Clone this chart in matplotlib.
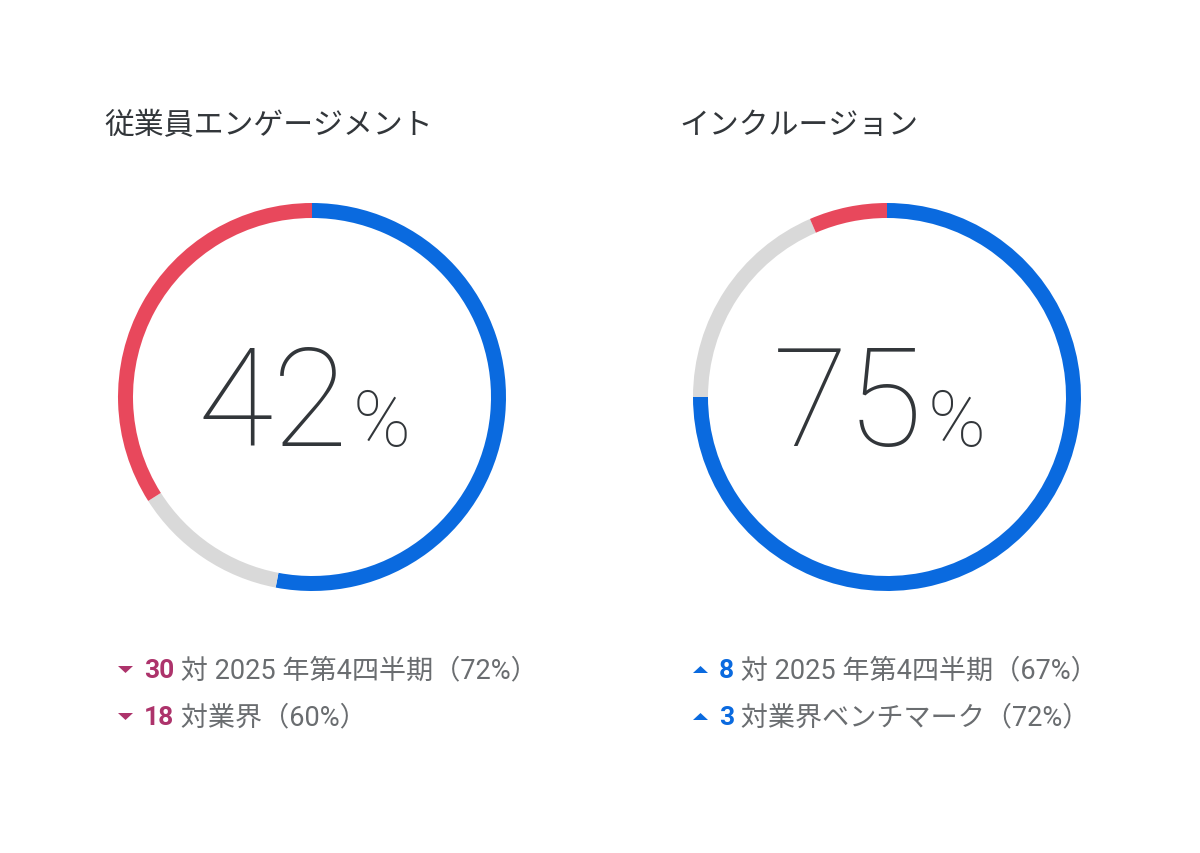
import matplotlib
matplotlib.use("Agg")
import matplotlib.pyplot as plt
from matplotlib.patches import Polygon

plt.rcParams['font.family'] = ['Noto Sans CJK JP', 'DejaVu Sans']

# data
titles = ['従業員エンゲージメント', 'インクルージョン']
scores = [42, 75]
# ring shares: favourable, neutral, unfavourable
favourable = [53, 75]
neutral = [13, 18.5]
unfavourable = [34, 6.5]
deltas = [[-30, -18], [8, 3]]
labels = [['対 2025 年第4四半期（72%）', '対業界（60%）'],
          ['対 2025 年第4四半期（67%）', '対業界ベンチマーク（72%）']]

BLUE = '#0A6ADF'
RED = '#E8485C'
GREY = '#D9D9D9'
DARK = '#32363A'
SUB = '#6A6D70'
DOWN = '#AD336B'
MIXED = ['Roboto', 'Noto Sans CJK JP', 'DejaVu Sans']

W, H = 1200, 854
fig = plt.figure(figsize=(W / 100, H / 100), dpi=100)
fig.patch.set_facecolor('white')

bg = fig.add_axes([0, 0, 1, 1])
bg.set_xlim(0, W)
bg.set_ylim(H, 0)
bg.axis('off')

centers = [312, 887]
cy = 398
r_out = 194
ring = 15

for i in range(2):
    cx = centers[i]
    ax = fig.add_axes([(cx - r_out) / W, (H - cy - r_out) / H,
                       2 * r_out / W, 2 * r_out / H])
    ax.pie([favourable[i], neutral[i], unfavourable[i]],
           colors=[BLUE, GREY, RED], startangle=90, counterclock=False,
           radius=1, wedgeprops=dict(width=ring / r_out, linewidth=0))
    ax.set_xlim(-1, 1)
    ax.set_ylim(-1, 1)
    ax.set_aspect('equal')
    ax.axis('off')

    # title
    bg.text(cx - 208, 126, titles[i], fontsize=21.5, color=DARK,
            ha='left', va='center')

    # big number
    bg.text(cx + 36, 446, str(scores[i]), fontsize=99, color=DARK,
            family='Roboto', fontweight='light', ha='right', va='baseline')
    bg.text(cx + 41, 446, '%', fontsize=56, color=DARK,
            family='Roboto', fontweight='light', ha='left', va='baseline')

    # comparison lines
    for j in range(2):
        d = deltas[i][j]
        y = 671 + j * 47
        col = BLUE if d > 0 else DOWN
        tx = cx - 194
        if d > 0:
            tri = [(tx, y + 3), (tx + 15, y + 3), (tx + 7.5, y - 4)]
        else:
            tri = [(tx, y - 4), (tx + 15, y - 4), (tx + 7.5, y + 3)]
        bg.add_patch(Polygon(tri, closed=True, color=col, linewidth=0))
        t1 = bg.text(tx + 26, y, str(abs(d)), fontsize=19, color=col,
                     family=MIXED, fontweight='bold', ha='left', va='center')
        bg.annotate(' ' + labels[i][j], xy=(1, 0.5), xycoords=t1,
                    fontsize=19.5, color=SUB, family=MIXED,
                    ha='left', va='center')

fig.savefig('out.png', dpi=100, facecolor='white')
